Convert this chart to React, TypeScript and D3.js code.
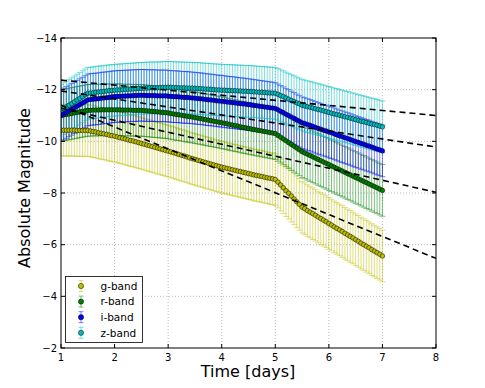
import React, { useEffect, useRef } from 'react';
import * as d3 from 'd3';

// time grid of the model light curves (days)
const days = [
  1.0, 1.05, 1.1, 1.15, 1.2, 1.25, 1.3, 1.35, 1.4, 1.45,
  1.5, 1.55, 1.6, 1.65, 1.7, 1.75, 1.8, 1.85, 1.9, 1.95,
  2.0, 2.05, 2.1, 2.15, 2.2, 2.25, 2.3, 2.35, 2.4, 2.45,
  2.5, 2.55, 2.6, 2.65, 2.7, 2.75, 2.8, 2.85, 2.9, 2.95,
  3.0, 3.05, 3.1, 3.15, 3.2, 3.25, 3.3, 3.35, 3.4, 3.45,
  3.5, 3.55, 3.6, 3.65, 3.7, 3.75, 3.8, 3.85, 3.9, 3.95,
  4.0, 4.05, 4.1, 4.15, 4.2, 4.25, 4.3, 4.35, 4.4, 4.45,
  4.5, 4.55, 4.6, 4.65, 4.7, 4.75, 4.8, 4.85, 4.9, 4.95,
  5.0, 5.05, 5.1, 5.15, 5.2, 5.25, 5.3, 5.35, 5.4, 5.45,
  5.5, 5.55, 5.6, 5.65, 5.7, 5.75, 5.8, 5.85, 5.9, 5.95,
  6.0, 6.05, 6.1, 6.15, 6.2, 6.25, 6.3, 6.35, 6.4, 6.45,
  6.5, 6.55, 6.6, 6.65, 6.7, 6.75, 6.8, 6.85, 6.9, 6.95,
  7.0
];

const gBand = [
  -10.43, -10.43, -10.43, -10.43, -10.43, -10.43, -10.42, -10.42, -10.42, -10.42,
  -10.42, -10.40, -10.38, -10.36, -10.33, -10.31, -10.29, -10.27, -10.24, -10.22,
  -10.20, -10.17, -10.14, -10.12, -10.09, -10.06, -10.03, -10.01, -9.98, -9.95,
  -9.92, -9.89, -9.86, -9.83, -9.80, -9.77, -9.74, -9.71, -9.68, -9.65,
  -9.62, -9.59, -9.56, -9.53, -9.49, -9.46, -9.43, -9.40, -9.36, -9.33,
  -9.30, -9.27, -9.24, -9.21, -9.18, -9.15, -9.12, -9.09, -9.06, -9.03,
  -9.00, -8.98, -8.95, -8.93, -8.90, -8.88, -8.85, -8.83, -8.80, -8.78,
  -8.75, -8.73, -8.70, -8.68, -8.66, -8.64, -8.61, -8.59, -8.57, -8.55,
  -8.52, -8.42, -8.31, -8.20, -8.09, -7.99, -7.88, -7.77, -7.66, -7.56,
  -7.45, -7.39, -7.32, -7.26, -7.20, -7.14, -7.07, -7.01, -6.95, -6.89,
  -6.82, -6.76, -6.69, -6.63, -6.57, -6.51, -6.44, -6.38, -6.32, -6.26,
  -6.19, -6.13, -6.06, -6.00, -5.94, -5.88, -5.81, -5.75, -5.69, -5.63,
  -5.56
];

const rBand = [
  -11.00, -11.02, -11.04, -11.06, -11.08, -11.10, -11.12, -11.14, -11.16, -11.18,
  -11.20, -11.20, -11.21, -11.21, -11.21, -11.22, -11.22, -11.22, -11.22, -11.22,
  -11.22, -11.22, -11.22, -11.21, -11.21, -11.21, -11.21, -11.20, -11.20, -11.20,
  -11.20, -11.19, -11.18, -11.17, -11.16, -11.15, -11.14, -11.13, -11.12, -11.11,
  -11.10, -11.08, -11.06, -11.04, -11.03, -11.01, -10.99, -10.97, -10.96, -10.94,
  -10.92, -10.90, -10.88, -10.86, -10.84, -10.82, -10.80, -10.78, -10.76, -10.74,
  -10.72, -10.70, -10.68, -10.65, -10.63, -10.61, -10.59, -10.56, -10.54, -10.52,
  -10.50, -10.48, -10.46, -10.44, -10.42, -10.40, -10.38, -10.36, -10.34, -10.32,
  -10.30, -10.23, -10.16, -10.09, -10.02, -9.95, -9.88, -9.81, -9.74, -9.67,
  -9.60, -9.55, -9.50, -9.45, -9.40, -9.35, -9.30, -9.25, -9.20, -9.15,
  -9.10, -9.05, -9.00, -8.95, -8.90, -8.85, -8.80, -8.75, -8.70, -8.65,
  -8.60, -8.55, -8.50, -8.45, -8.40, -8.35, -8.30, -8.25, -8.20, -8.15,
  -8.10
];

const iBand = [
  -11.00, -11.06, -11.12, -11.18, -11.24, -11.30, -11.36, -11.42, -11.48, -11.54,
  -11.60, -11.62, -11.63, -11.64, -11.65, -11.67, -11.68, -11.69, -11.70, -11.72,
  -11.73, -11.74, -11.74, -11.75, -11.75, -11.76, -11.76, -11.77, -11.77, -11.78,
  -11.78, -11.78, -11.77, -11.77, -11.77, -11.77, -11.76, -11.76, -11.76, -11.76,
  -11.75, -11.74, -11.73, -11.73, -11.72, -11.71, -11.70, -11.70, -11.69, -11.68,
  -11.67, -11.66, -11.65, -11.64, -11.62, -11.61, -11.60, -11.59, -11.57, -11.56,
  -11.55, -11.54, -11.52, -11.51, -11.50, -11.49, -11.47, -11.46, -11.45, -11.44,
  -11.42, -11.41, -11.39, -11.38, -11.36, -11.35, -11.33, -11.32, -11.30, -11.29,
  -11.27, -11.22, -11.16, -11.11, -11.05, -11.00, -10.94, -10.89, -10.83, -10.78,
  -10.72, -10.69, -10.65, -10.62, -10.58, -10.54, -10.50, -10.47, -10.43, -10.40,
  -10.36, -10.33, -10.29, -10.25, -10.21, -10.18, -10.14, -10.11, -10.07, -10.03,
  -9.99, -9.96, -9.92, -9.89, -9.85, -9.82, -9.78, -9.74, -9.70, -9.67,
  -9.63
];

const zBand = [
  -11.20, -11.27, -11.33, -11.40, -11.46, -11.53, -11.60, -11.66, -11.73, -11.80,
  -11.86, -11.87, -11.88, -11.90, -11.91, -11.92, -11.93, -11.95, -11.96, -11.97,
  -11.98, -11.99, -11.99, -12.00, -12.01, -12.02, -12.02, -12.03, -12.04, -12.05,
  -12.05, -12.06, -12.06, -12.07, -12.07, -12.07, -12.07, -12.08, -12.08, -12.09,
  -12.09, -12.09, -12.08, -12.08, -12.07, -12.07, -12.07, -12.06, -12.06, -12.06,
  -12.05, -12.05, -12.04, -12.03, -12.02, -12.02, -12.01, -12.00, -11.99, -11.99,
  -11.98, -11.98, -11.97, -11.97, -11.96, -11.96, -11.95, -11.95, -11.94, -11.94,
  -11.93, -11.93, -11.92, -11.91, -11.90, -11.90, -11.89, -11.88, -11.87, -11.87,
  -11.86, -11.82, -11.77, -11.73, -11.68, -11.63, -11.58, -11.54, -11.49, -11.45,
  -11.40, -11.37, -11.34, -11.32, -11.29, -11.26, -11.23, -11.21, -11.18, -11.15,
  -11.12, -11.09, -11.06, -11.04, -11.01, -10.98, -10.95, -10.93, -10.90, -10.87,
  -10.84, -10.81, -10.78, -10.76, -10.73, -10.70, -10.67, -10.65, -10.62, -10.59,
  -10.56
];

// 1-sigma spread of each band (mag)
const bandErr = [1.0, 1.0, 1.0, 1.0];
const bandNames = ['g-band', 'r-band', 'i-band', 'z-band'];

// straight dashed decline lines: magnitude at day 1 and at day 8
const fitDays = [1, 8];
const fitStart = [-12.37, -11.95, -11.28, -11.4];
const fitEnd = [-11.0, -9.78, -8.03, -5.47];

const xTicks = [1, 2, 3, 4, 5, 6, 7, 8];
const yTicks = [-14, -12, -10, -8, -6, -4, -2];

const App = () => {
  const svgRef = useRef<SVGSVGElement>(null);

  useEffect(() => {
    const W = 485, H = 388;
    const left = 61, right = 436, top = 38, bottom = 348;
    const font = 'DejaVu Sans, sans-serif';

    const svg = d3.select(svgRef.current).attr('width', W).attr('height', H);
    svg.selectAll('*').remove();

    const x = d3.scaleLinear().domain([1, 8]).range([left, right]);
    const y = d3.scaleLinear().domain([-14, -2]).range([top, bottom]);

    const colors = ['#bfbf00', '#008000', '#0000ff', '#00bfbf'];
    const bands = [gBand, rBand, iBand, zBand];

    svg.append('rect').attr('width', W).attr('height', H).attr('fill', '#fff');

    // grid
    const grid = svg.append('g').attr('stroke', '#aaa').attr('stroke-width', 0.8)
      .attr('stroke-dasharray', '1,2');
    xTicks.slice(1, -1).forEach(t => {
      grid.append('line').attr('x1', x(t)).attr('x2', x(t)).attr('y1', top).attr('y2', bottom);
    });
    yTicks.slice(1, -1).forEach(t => {
      grid.append('line').attr('x1', left).attr('x2', right).attr('y1', y(t)).attr('y2', y(t));
    });

    svg.append('clipPath').attr('id', 'plotclip')
      .append('rect').attr('x', left).attr('y', top)
      .attr('width', right - left).attr('height', bottom - top);
    const plot = svg.append('g').attr('clip-path', 'url(#plotclip)');

    // error bars
    const cap = 3;
    bands.forEach((vals, k) => {
      const g = plot.append('g').attr('stroke', colors[k]).attr('stroke-opacity', 0.5)
        .attr('stroke-width', 1);
      vals.forEach((m, j) => {
        const px = x(days[j]);
        const lo = y(m + bandErr[k]);
        const hi = y(m - bandErr[k]);
        g.append('line').attr('x1', px).attr('x2', px).attr('y1', lo).attr('y2', hi);
        g.append('line').attr('x1', px - cap).attr('x2', px + cap).attr('y1', lo).attr('y2', lo);
        g.append('line').attr('x1', px - cap).attr('x2', px + cap).attr('y1', hi).attr('y2', hi);
      });
    });

    // mean curves with markers
    const line = d3.line<number>().x((_, j) => x(days[j])).y(d => y(d));
    bands.forEach((vals, k) => {
      plot.append('path').attr('d', line(vals)).attr('fill', 'none')
        .attr('stroke', colors[k]).attr('stroke-width', 3);
      plot.append('g').selectAll('circle').data(vals).enter().append('circle')
        .attr('cx', (_, j) => x(days[j])).attr('cy', d => y(d)).attr('r', 2.3)
        .attr('fill', colors[k]).attr('stroke', '#000').attr('stroke-width', 0.5);
    });

    // dashed decline lines
    fitStart.forEach((m0, k) => {
      plot.append('line')
        .attr('x1', x(fitDays[0])).attr('y1', y(m0))
        .attr('x2', x(fitDays[1])).attr('y2', y(fitEnd[k]))
        .attr('stroke', '#000').attr('stroke-width', 1.6).attr('stroke-dasharray', '6,4');
    });

    // frame and ticks
    svg.append('rect').attr('x', left).attr('y', top).attr('width', right - left)
      .attr('height', bottom - top).attr('fill', 'none').attr('stroke', '#000').attr('stroke-width', 1);
    const ticks = svg.append('g').attr('stroke', '#000').attr('stroke-width', 1);
    xTicks.forEach(t => {
      ticks.append('line').attr('x1', x(t)).attr('x2', x(t)).attr('y1', bottom).attr('y2', bottom - 4);
      ticks.append('line').attr('x1', x(t)).attr('x2', x(t)).attr('y1', top).attr('y2', top + 4);
    });
    yTicks.forEach(t => {
      ticks.append('line').attr('x1', left).attr('x2', left + 4).attr('y1', y(t)).attr('y2', y(t));
      ticks.append('line').attr('x1', right).attr('x2', right - 4).attr('y1', y(t)).attr('y2', y(t));
    });

    xTicks.forEach(t => {
      svg.append('text').attr('x', x(t)).attr('y', bottom + 13).attr('text-anchor', 'middle')
        .attr('font-family', font).attr('font-size', 10).text(String(t));
    });
    yTicks.forEach(t => {
      svg.append('text').attr('x', left - 4).attr('y', y(t) + 3.6).attr('text-anchor', 'end')
        .attr('font-family', font).attr('font-size', 10).text(String(t).replace('-', '\u2212'));
    });

    svg.append('text').attr('x', (left + right) / 2 - 0.5).attr('y', 377).attr('text-anchor', 'middle')
      .attr('font-family', font).attr('font-size', 16).text('Time [days]');
    svg.append('text').attr('transform', 'translate(30,188) rotate(-90)').attr('text-anchor', 'middle')
      .attr('font-family', font).attr('font-size', 16).text('Absolute Magnitude');

    // legend
    const lg = svg.append('g');
    lg.append('rect').attr('x', 65.5).attr('y', 276.5).attr('width', 77).attr('height', 66)
      .attr('fill', '#fff').attr('stroke', '#000').attr('stroke-width', 0.8);
    bandNames.forEach((name, k) => {
      const cy = 286 + k * 15.6;
      const e = lg.append('g').attr('stroke', colors[k]).attr('stroke-opacity', 0.5);
      e.append('line').attr('x1', 81).attr('x2', 81).attr('y1', cy - 5.5).attr('y2', cy + 5.5);
      e.append('line').attr('x1', 78.5).attr('x2', 83.5).attr('y1', cy - 5.5).attr('y2', cy - 5.5);
      e.append('line').attr('x1', 78.5).attr('x2', 83.5).attr('y1', cy + 5.5).attr('y2', cy + 5.5);
      lg.append('circle').attr('cx', 81).attr('cy', cy).attr('r', 2.6)
        .attr('fill', colors[k]).attr('stroke', '#000').attr('stroke-width', 0.5);
      lg.append('text').attr('x', 100.5).attr('y', cy + 3.8).attr('font-family', font)
        .attr('font-size', 10.5).text(name);
    });
  }, []);

  return <svg ref={svgRef} style={{ position: 'absolute', left: 0, top: 0 }}></svg>;
};

export default App;
